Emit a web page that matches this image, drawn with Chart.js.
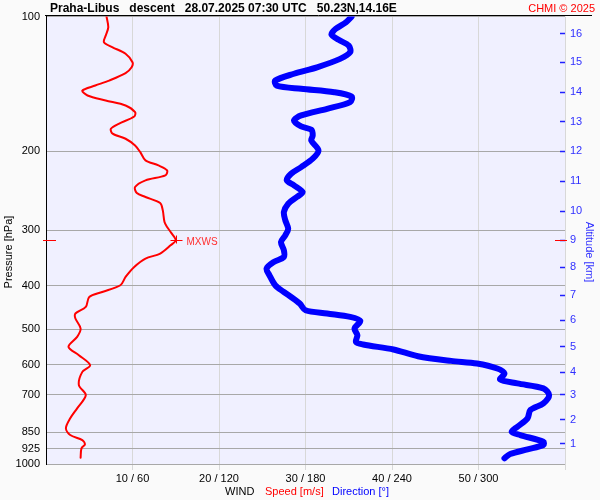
<!DOCTYPE html>
<html><head><meta charset="utf-8">
<script src="https://cdn.jsdelivr.net/npm/chart.js@4.4.1/dist/chart.umd.min.js"></script>
<style>html,body{margin:0;padding:0;background:#fafafa;}canvas{display:block;}</style>
</head><body>
<canvas id="c" width="600" height="500"></canvas>
<script>
const titleText = 'Praha-Libus   descent   28.07.2025 07:30 UTC   50.23N,14.16E';
const creditText = 'CHMI \u00A9 2025';
const pressureTitle = 'Pressure [hPa]';
const altitudeTitle = 'Altitude [km]';
const pressureTicks = [100, 200, 300, 400, 500, 600, 700, 850, 925, 1000];
const speedTicks = [10, 20, 30, 40, 50];
const dirTicks = [60, 120, 180, 240, 300];
const altitudeKm = [1, 2, 3, 4, 5, 6, 7, 8, 9, 10, 11, 12, 13, 14, 15, 16];
const altitudePressure = [902, 797, 701, 624, 547, 477, 420, 363, 316, 272, 233.5, 200, 172, 147.5, 126.5, 109.3];

const speedPressure = [100, 105.7, 110.3, 114.1, 117.1, 121.1, 126.5, 129.8, 133.8, 139.0, 142.6, 146.3, 150.1, 154.0, 158.0, 163.5, 167.2, 173.6, 178.1, 182.7, 187.5, 194.1, 200.9, 209.6, 215.1, 220.7, 226.4, 232.3, 240.4, 248.0, 253.1, 261.1, 271.0, 287.9, 295.4, 304.7, 316.2, 324.5, 338.6, 347.5, 362.8, 381.9, 398.6, 412.6, 423.3, 445.6, 461.0, 473.0, 497.9, 519.9, 547.3, 571.2, 601.3, 622.4, 666.3, 701.5, 750.9, 790.6, 832.4, 861.6, 884.1, 903.9, 922.7, 968.2];
const speedValues = [7.0, 7.2, 6.9, 6.7, 7.7, 9.2, 10.0, 9.9, 9.2, 7.3, 5.7, 4.2, 4.8, 6.9, 9.2, 10.3, 10.2, 8.4, 7.5, 7.7, 9.2, 10.3, 10.9, 11.5, 13.0, 14.0, 13.8, 11.5, 10.3, 10.5, 11.5, 13.2, 13.5, 13.7, 14.0, 14.5, 15.0, 14.4, 13.2, 11.5, 10.2, 9.2, 8.6, 6.5, 5.0, 4.6, 3.4, 3.4, 4.0, 3.6, 2.6, 3.8, 5.1, 4.2, 3.8, 4.6, 3.6, 2.8, 2.3, 2.8, 4.2, 4.5, 4.1, 4.0];

const dirPressure = [100, 103.0, 106.5, 109.7, 112.7, 116.1, 120.1, 124.3, 129.8, 134.2, 139.0, 142.6, 145.0, 147.6, 150.9, 155.3, 160.7, 166.3, 170.7, 176.0, 179.0, 184.4, 189.2, 199.1, 207.8, 217.0, 224.5, 232.3, 238.3, 246.7, 253.1, 261.9, 273.4, 285.4, 297.8, 308.2, 319.0, 332.9, 344.6, 353.6, 365.8, 378.6, 398.6, 412.6, 423.3, 437.9, 453.2, 461.0, 469.1, 478.8, 497.9, 515.4, 533.4, 540.6, 554.7, 574.2, 588.2, 596.1, 611.6, 627.5, 647.2, 660.5, 677.7, 701.5, 731.9, 757.5, 790.6, 825.6, 847.2, 861.6, 891.9, 907.1, 927.4, 949.9, 971.1];
const dirValues = [212, 208, 201, 198, 203, 210, 211, 204, 188, 172, 159, 160, 177, 200, 212, 211, 195, 177, 172, 177, 184, 185, 184, 189, 185, 177, 170, 167, 172, 178, 174, 168, 165, 166, 168, 166, 163, 165, 165, 158, 153, 155, 159, 165, 170, 176, 180, 195, 211, 218, 214, 216, 215, 220, 241, 258, 281, 299, 313, 318, 315, 327, 345, 349, 345, 336, 334, 327, 323, 329, 345, 345, 334, 322, 318];

const mxwsPressure = 316;
const mxwsSpeed = 15.0;

const FONT = '"Liberation Sans", Arial, sans-serif';
Chart.defaults.font.family = FONT;
Chart.defaults.font.size = 11;
Chart.defaults.color = '#000';

const deco = {
  id: 'deco',
  beforeDraw(chart) {
    const {ctx, chartArea: a} = chart;
    ctx.save();
    ctx.fillStyle = '#f0f0ff';
    ctx.fillRect(a.left, a.top, a.right - a.left, a.bottom - a.top);
    ctx.restore();
  },
  afterDraw(chart) {
    const {ctx, chartArea: a, scales} = chart;
    ctx.save();
    ctx.strokeStyle = '#000'; ctx.lineWidth = 1;
    ctx.beginPath(); ctx.moveTo(a.left - 1, 15.5); ctx.lineTo(592, 15.5); ctx.stroke();
    ctx.textBaseline = 'alphabetic';
    ctx.font = 'bold 12px ' + FONT; ctx.fillStyle = '#000'; ctx.textAlign = 'left';
    ctx.fillText(titleText, 50, 12);
    ctx.font = '11px ' + FONT; ctx.fillStyle = '#ff0000'; ctx.textAlign = 'right';
    ctx.fillText(creditText, 595, 11.5);
    // x axis title
    ctx.textAlign = 'left';
    ctx.fillStyle = '#000'; ctx.fillText('WIND', 225, 495);
    ctx.fillStyle = '#ff0000'; ctx.fillText('Speed [m/s]', 265, 495);
    ctx.fillStyle = '#0000ff'; ctx.fillText('Direction [\u00B0]', 332, 495);
    // vertical axis titles
    ctx.textAlign = 'center'; ctx.textBaseline = 'middle';
    ctx.save(); ctx.translate(9, 252); ctx.rotate(-Math.PI / 2);
    ctx.fillStyle = '#000'; ctx.fillText(pressureTitle, 0, 0); ctx.restore();
    ctx.save(); ctx.translate(589.5, 252); ctx.rotate(Math.PI / 2);
    ctx.fillStyle = '#3030ff'; ctx.fillText(altitudeTitle, 0, 0); ctx.restore();
    // MXWS marker
    const y = Math.round(scales.y.getPixelForValue(mxwsPressure)) + 0.5;
    const x = Math.round(scales.x.getPixelForValue(mxwsSpeed)) + 0.5;
    ctx.strokeStyle = '#ff0000'; ctx.lineWidth = 1;
    ctx.beginPath();
    ctx.moveTo(x - 6, y); ctx.lineTo(x + 6, y);
    ctx.moveTo(x, y - 5); ctx.lineTo(x, y + 3);
    ctx.moveTo(a.left - 3, y); ctx.lineTo(a.left + 10, y);
    ctx.moveTo(a.right - 10, y); ctx.lineTo(a.right + 2, y);
    ctx.stroke();
    ctx.textAlign = 'left'; ctx.textBaseline = 'alphabetic';
    ctx.font = '10px ' + FONT; ctx.fillStyle = '#ff3030';
    ctx.fillText('MXWS', x + 10, y + 4);
    ctx.restore();
  }
};

new Chart(document.getElementById('c'), {
  type: 'scatter',
  data: {
    datasets: [
      {
        label: 'Speed',
        data: speedPressure.map((p, i) => ({x: speedValues[i], y: p})),
        xAxisID: 'x', yAxisID: 'y',
        showLine: true, borderColor: '#ff0000', borderWidth: 2,
        pointRadius: 0, tension: 0.3, borderCapStyle: 'round', borderJoinStyle: 'round'
      },
      {
        label: 'Direction',
        data: dirPressure.map((p, i) => ({x: dirValues[i], y: p})),
        xAxisID: 'x2', yAxisID: 'y',
        showLine: true, borderColor: '#0000ff', borderWidth: 6,
        pointRadius: 0, tension: 0.3, borderCapStyle: 'round', borderJoinStyle: 'round'
      }
    ]
  },
  options: {
    responsive: false,
    animation: false,
    layout: {padding: {top: 16, left: 0, right: 0, bottom: 0}},
    plugins: {legend: {display: false}, tooltip: {enabled: false}},
    scales: {
      x: {
        type: 'linear', position: 'bottom', min: 0, max: 60,
        ticks: {
          stepSize: 10, padding: 2, color: '#000',
          callback: (v) => { const i = speedTicks.indexOf(v); return i >= 0 ? speedTicks[i] + ' / ' + dirTicks[i] : ''; }
        },
        grid: {
          color: (c) => (c.tick && c.tick.value === 0) ? 'rgba(0,0,0,0)' : '#d8d8d8',
          tickLength: 6
        },
        border: {display: false},
        afterFit: (s) => { s.height = 36; }
      },
      x2: {
        type: 'linear', position: 'bottom', min: 0, max: 360, display: false
      },
      y: {
        type: 'logarithmic', position: 'left', min: 100, max: 1000, reverse: true,
        afterBuildTicks: (s) => { s.ticks = pressureTicks.map(v => ({value: v})); },
        ticks: {padding: 6, color: '#000', autoSkip: false, callback: (v, i) => String(pressureTicks[i])},
        grid: {color: '#a8a8a8', drawTicks: false},
        border: {display: true, color: '#000', width: 1},
        title: {display: false},
        afterFit: (s) => { s.width = 46; }
      },
      y2: {
        type: 'logarithmic', position: 'right', min: 100, max: 1000, reverse: true,
        afterBuildTicks: (s) => { s.ticks = altitudePressure.map(v => ({value: v})); },
        ticks: {padding: 10, color: '#3030ff', autoSkip: false, callback: (v, i) => String(altitudeKm[i])},
        grid: {drawOnChartArea: false, tickLength: -5, tickColor: '#2020ff', tickWidth: 1.5},
        border: {display: false},
        title: {display: false},
        afterFit: (s) => { s.width = 35; }
      }
    }
  },
  plugins: [deco]
});
</script>
</body></html>
